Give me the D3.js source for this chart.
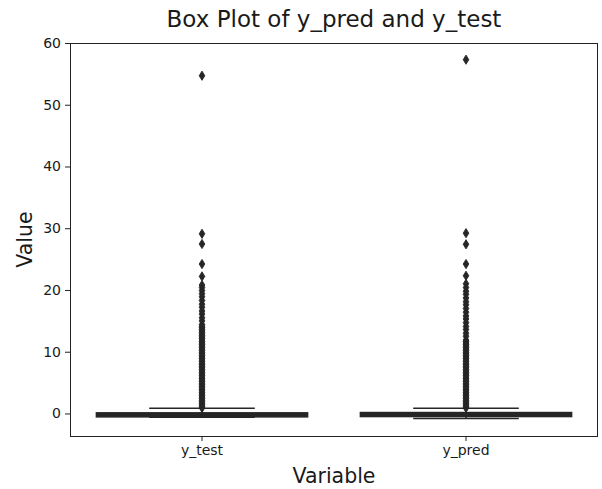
<!DOCTYPE html>
<html>
<head>
<meta charset="utf-8">
<script src="https://cdn.jsdelivr.net/npm/d3@7"></script>
<style>
  html, body { margin: 0; padding: 0; background: #fff; }
  svg { display: block; }
  text { font-family: "DejaVu Sans", sans-serif; fill: #1a1a1a; }
</style>
</head>
<body>
<script>
// ---- data ----
const categories = ["y_test", "y_pred"];
const lowerWhisker = [-0.6, -0.8];
const q1 = [-0.55, -0.5];
const median = [-0.2, -0.2];
const q3 = [0.1, 0.15];
const upperWhisker = [0.84, 0.84];

const outliersTest = [
  0.9, 1.15, 1.4, 1.65, 1.9, 2.15, 2.4, 2.65, 2.9, 3.15, 3.4, 3.65, 3.9, 4.15, 4.4, 4.65,
  4.9, 5.15, 5.4, 5.65, 5.9, 6.15, 6.4, 6.65, 6.9, 7.15, 7.4, 7.65, 7.9, 8.15, 8.4, 8.65,
  8.9, 9.15, 9.4, 9.65, 9.9, 10.15, 10.4, 10.65, 10.9, 11.15, 11.4, 11.65, 11.9, 12.15,
  12.4, 12.65, 12.9, 13.15, 13.4, 13.65, 13.9, 14.15, 14.4,
  15.0, 15.5, 16.1, 16.6, 17.2, 17.7, 18.3, 18.9, 19.4, 19.9, 20.4, 20.8,
  22.2, 24.2, 27.45, 29.1, 54.7
];
const outliersPred = [
  0.9, 1.15, 1.4, 1.65, 1.9, 2.15, 2.4, 2.65, 2.9, 3.15, 3.4, 3.65, 3.9, 4.15, 4.4, 4.65,
  4.9, 5.15, 5.4, 5.65, 5.9, 6.15, 6.4, 6.65, 6.9, 7.15, 7.4, 7.65, 7.9, 8.15, 8.4, 8.65,
  8.9, 9.15, 9.4, 9.65, 9.9, 10.15, 10.4, 10.65, 10.9, 11.15, 11.4, 11.65, 11.9,
  12.5, 13.0, 13.6, 14.1, 14.7, 15.3, 15.8, 16.4, 17.0, 17.6, 18.1, 18.7, 19.3, 19.8, 20.4, 21.0,
  22.3, 24.2, 27.4, 29.2, 57.3
];
const outliers = [outliersTest, outliersPred];

const yTicks = [0, 10, 20, 30, 40, 50, 60];
const yDomain = [-3.65, 60];

const titleText = "Box Plot of y_pred and y_test";
const xLabel = "Variable";
const yLabel = "Value";

// ---- layout ----
const W = 602, H = 489;
const plot = { left: 70, right: 598, top: 43, bottom: 436 };
const dark = "#262626";

const svg = d3.select("body").append("svg").attr("width", W).attr("height", H);

const x = d3.scaleBand().domain(categories).range([plot.left, plot.right]);
const y = d3.scaleLinear().domain(yDomain).range([plot.bottom, plot.top]);

const boxW = x.bandwidth() * 0.8;
const capW = boxW * 0.5;

// axes
const yAxis = d3.axisLeft(y).tickValues(yTicks).tickSize(5).tickPadding(4);
const xAxis = d3.axisBottom(x).tickSize(5).tickPadding(4);

const gy = svg.append("g").attr("transform", `translate(${plot.left},0)`).call(yAxis);
const gx = svg.append("g").attr("transform", `translate(0,${plot.bottom})`).call(xAxis);
[gy, gx].forEach(g => {
  g.select(".domain").remove();
  g.selectAll(".tick line").attr("stroke", "#222").attr("stroke-width", 1);
  g.selectAll(".tick text").attr("font-family", "DejaVu Sans").attr("font-size", 14).attr("fill", "#1a1a1a");
});

// frame (spines)
svg.append("rect")
  .attr("x", plot.left + 0.5).attr("y", plot.top + 0.5)
  .attr("width", plot.right - plot.left - 1).attr("height", plot.bottom - plot.top)
  .attr("fill", "none").attr("stroke", "#222").attr("stroke-width", 1);

// boxes
const g = svg.append("g");
categories.forEach((c, i) => {
  const cx = x(c) + x.bandwidth() / 2;
  // whiskers
  g.append("line").attr("x1", cx).attr("x2", cx)
    .attr("y1", y(q3[i])).attr("y2", y(upperWhisker[i]))
    .attr("stroke", dark).attr("stroke-width", 1.5);
  g.append("line").attr("x1", cx).attr("x2", cx)
    .attr("y1", y(q1[i])).attr("y2", y(lowerWhisker[i]))
    .attr("stroke", dark).attr("stroke-width", 1.5);
  // caps
  [upperWhisker[i], lowerWhisker[i]].forEach(v => {
    g.append("line").attr("x1", cx - capW / 2).attr("x2", cx + capW / 2)
      .attr("y1", y(v)).attr("y2", y(v))
      .attr("stroke", dark).attr("stroke-width", 1.5);
  });
  // box
  g.append("rect")
    .attr("x", cx - boxW / 2).attr("width", boxW)
    .attr("y", y(q3[i])).attr("height", y(q1[i]) - y(q3[i]))
    .attr("fill", dark).attr("stroke", dark).attr("stroke-width", 1.5);
  // median
  g.append("line").attr("x1", cx - boxW / 2).attr("x2", cx + boxW / 2)
    .attr("y1", y(median[i])).attr("y2", y(median[i]))
    .attr("stroke", dark).attr("stroke-width", 1.5);
  // outliers (thin diamonds)
  const hh = 4.6, hw = 2.8;
  g.selectAll(null).data(outliers[i]).enter().append("path")
    .attr("d", d => {
      const py = y(d);
      return `M${cx},${py - hh}L${cx + hw},${py}L${cx},${py + hh}L${cx - hw},${py}Z`;
    })
    .attr("fill", dark).attr("stroke", dark).attr("stroke-width", 0.9);
});

// title and labels
svg.append("text").attr("x", (plot.left + plot.right) / 2).attr("y", 27)
  .attr("text-anchor", "middle").attr("font-size", 23).text(titleText);
svg.append("text").attr("x", (plot.left + plot.right) / 2).attr("y", 483)
  .attr("text-anchor", "middle").attr("font-size", 20.5).text(xLabel);
svg.append("text")
  .attr("transform", `translate(32,${(plot.top + plot.bottom) / 2}) rotate(-90)`)
  .attr("text-anchor", "middle").attr("font-size", 20.5).text(yLabel);
</script>
</body>
</html>
